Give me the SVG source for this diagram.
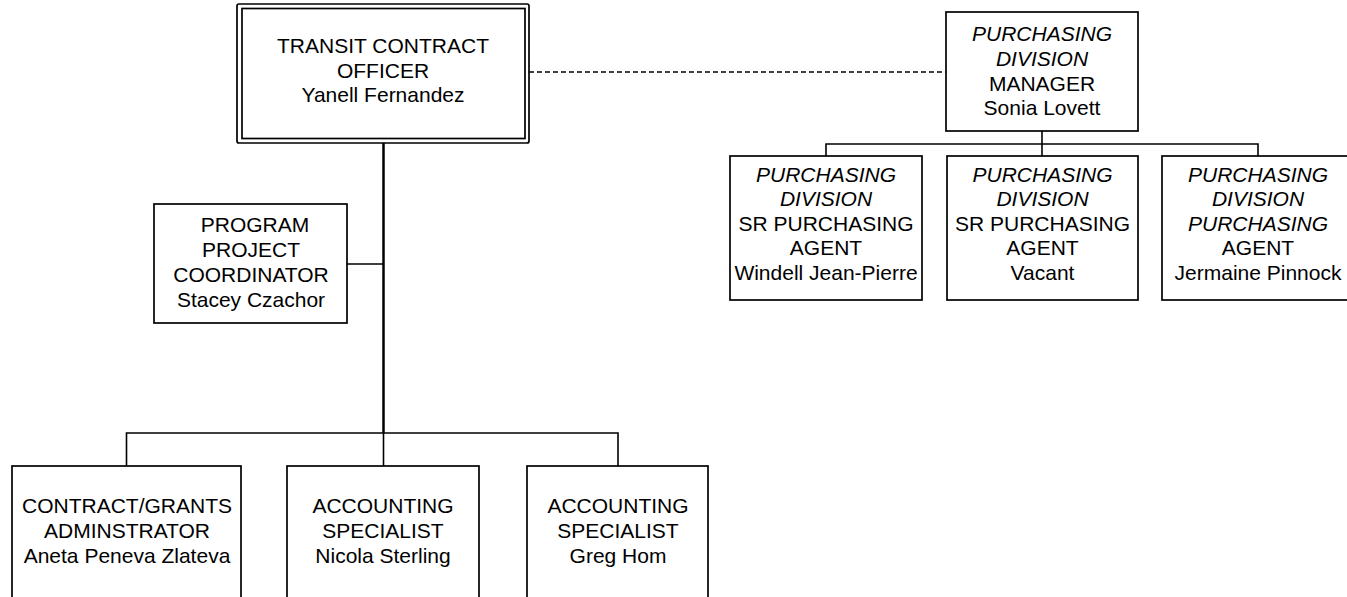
<svg xmlns="http://www.w3.org/2000/svg" width="1347" height="597" viewBox="0 0 1347 597">
  <style>
    .box { fill: #ffffff; stroke: #000000; stroke-width: 1.7; }
    .link { fill: none; stroke: #000000; stroke-width: 1.6; }
    .trunk { fill: none; stroke: #000000; stroke-width: 2.5; }
    .dotted { fill: none; stroke: #000000; stroke-width: 1.5; stroke-dasharray: 5 3; }
    text { font-family: "Liberation Sans", Arial, sans-serif; font-size: 21px; fill: #000000; text-anchor: middle; }
    .it { font-style: italic; }
  </style>
  <rect width="1347" height="597" fill="#ffffff"/>

  <!-- connectors -->
  <g id="connectors">
    <line class="dotted" x1="529" y1="72" x2="946" y2="72"/>
    <line class="trunk" x1="383.5" y1="143" x2="383.5" y2="433"/>
    <line class="link" x1="347" y1="264" x2="383.5" y2="264"/>
    <polyline class="link" points="126.5,466 126.5,433 618,433 618,466"/>
    <line class="link" x1="383.5" y1="433" x2="383.5" y2="466"/>
    <line class="link" x1="1042" y1="131" x2="1042" y2="156"/>
    <polyline class="link" points="826,156 826,144 1258,144 1258,156"/>
  </g>

  <!-- head of the transit contract section -->
  <g id="transit-contract-officer">
    <rect class="box" x="237" y="4" width="292" height="139" rx="2"/>
    <rect class="box" x="242" y="8.5" width="283" height="130"/>
    <text x="383" y="53">TRANSIT CONTRACT</text>
    <text x="383" y="77.5">OFFICER</text>
    <text x="383" y="102">Yanell Fernandez</text>
  </g>

  <g id="program-project-coordinator">
    <rect class="box" x="154" y="204" width="193" height="119"/>
    <text x="255" y="231.5">PROGRAM</text>
    <text x="251" y="256.5">PROJECT</text>
    <text x="251" y="281.5">COORDINATOR</text>
    <text x="251" y="306.5">Stacey Czachor</text>
  </g>

  <g id="contract-grants-administrator">
    <rect class="box" x="12" y="466" width="229" height="140"/>
    <text x="127" y="513">CONTRACT/GRANTS</text>
    <text x="127" y="538">ADMINSTRATOR</text>
    <text x="127" y="563">Aneta Peneva Zlateva</text>
  </g>

  <g id="accounting-specialist-1">
    <rect class="box" x="287" y="466" width="192" height="140"/>
    <text x="383" y="513">ACCOUNTING</text>
    <text x="383" y="538">SPECIALIST</text>
    <text x="383" y="563">Nicola Sterling</text>
  </g>

  <g id="accounting-specialist-2">
    <rect class="box" x="527" y="466" width="181" height="140"/>
    <text x="618" y="513">ACCOUNTING</text>
    <text x="618" y="538">SPECIALIST</text>
    <text x="618" y="563">Greg Hom</text>
  </g>

  <!-- purchasing division -->
  <g id="purchasing-manager">
    <rect class="box" x="946" y="12" width="192" height="119"/>
    <text class="it" x="1042" y="40.5">PURCHASING</text>
    <text class="it" x="1042" y="65.5">DIVISION</text>
    <text x="1042" y="90.5">MANAGER</text>
    <text x="1042" y="115">Sonia Lovett</text>
  </g>

  <g id="sr-purchasing-agent-1">
    <rect class="box" x="730" y="156" width="192" height="144"/>
    <text class="it" x="826" y="181.5">PURCHASING</text>
    <text class="it" x="826" y="206">DIVISION</text>
    <text x="826" y="230.5">SR PURCHASING</text>
    <text x="826" y="255">AGENT</text>
    <text x="826" y="280">Windell Jean-Pierre</text>
  </g>

  <g id="sr-purchasing-agent-2">
    <rect class="box" x="947" y="156" width="191" height="144"/>
    <text class="it" x="1042.5" y="181.5">PURCHASING</text>
    <text class="it" x="1042.5" y="206">DIVISION</text>
    <text x="1042.5" y="230.5">SR PURCHASING</text>
    <text x="1042.5" y="255">AGENT</text>
    <text x="1042.5" y="280">Vacant</text>
  </g>

  <g id="purchasing-agent">
    <rect class="box" x="1162" y="156" width="192" height="144"/>
    <text class="it" x="1258" y="181.5">PURCHASING</text>
    <text class="it" x="1258" y="206">DIVISION</text>
    <text class="it" x="1258" y="230.5">PURCHASING</text>
    <text x="1258" y="255">AGENT</text>
    <text x="1258" y="280">Jermaine Pinnock</text>
  </g>
</svg>
